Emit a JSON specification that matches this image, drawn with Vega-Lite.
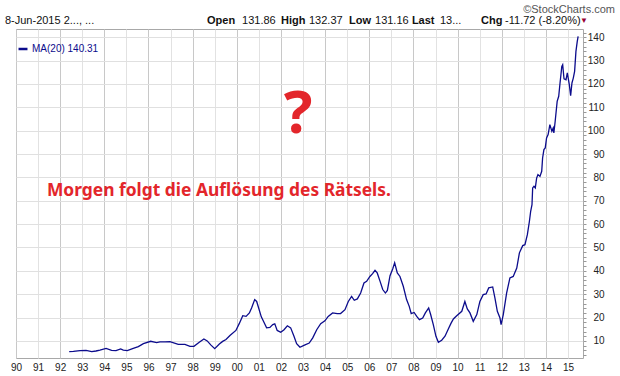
{
  "$schema": "https://vega.github.io/schema/vega-lite/v6.json",
  "width": 567,
  "height": 329,
  "autosize": {"type": "none"},
  "padding": {"left": 16, "top": 29, "right": 37, "bottom": 18},
  "background": "white",
  "config": {"view": {"stroke": "#a8a8a8"}, "font": "Liberation Sans"},
  "resolve": {"axis": {"x": "independent", "y": "independent"}},
  "layer": [
    {
      "data": {"values": [
        {"t":1992.41,"v":5.4},{"t":1992.6,"v":5.5},{"t":1992.9,"v":5.85},{"t":1993.17,"v":6.0},{"t":1993.43,"v":5.4},{"t":1993.62,"v":5.7},{"t":1993.8,"v":6.1},{"t":1994.08,"v":6.8},{"t":1994.33,"v":6.0},{"t":1994.53,"v":5.85},{"t":1994.74,"v":6.6},{"t":1994.86,"v":6.1},{"t":1995.04,"v":5.85},{"t":1995.31,"v":6.8},{"t":1995.54,"v":7.6},{"t":1995.77,"v":8.85},{"t":1996.1,"v":9.85},{"t":1996.37,"v":9.3},{"t":1996.52,"v":9.6},{"t":1996.75,"v":9.6},{"t":1996.97,"v":9.7},{"t":1997.35,"v":8.5},{"t":1997.65,"v":8.5},{"t":1997.88,"v":7.7},{"t":1998.06,"v":7.7},{"t":1998.3,"v":9.4},{"t":1998.51,"v":10.85},{"t":1998.66,"v":10.0},{"t":1998.82,"v":8.3},{"t":1999.0,"v":6.7},{"t":1999.21,"v":8.7},{"t":1999.36,"v":9.8},{"t":1999.51,"v":10.6},{"t":1999.69,"v":12.3},{"t":1999.96,"v":14.5},{"t":2000.11,"v":17.4},{"t":2000.27,"v":20.8},{"t":2000.42,"v":20.5},{"t":2000.57,"v":22.0},{"t":2000.67,"v":24.1},{"t":2000.81,"v":27.7},{"t":2000.9,"v":26.9},{"t":2000.99,"v":24.1},{"t":2001.11,"v":20.3},{"t":2001.23,"v":18.0},{"t":2001.35,"v":15.6},{"t":2001.5,"v":15.8},{"t":2001.63,"v":17.0},{"t":2001.72,"v":17.3},{"t":2001.83,"v":14.5},{"t":2001.99,"v":13.7},{"t":2002.14,"v":14.8},{"t":2002.29,"v":16.5},{"t":2002.44,"v":15.6},{"t":2002.59,"v":12.0},{"t":2002.71,"v":8.85},{"t":2002.86,"v":7.3},{"t":2003.04,"v":8.1},{"t":2003.28,"v":9.1},{"t":2003.44,"v":11.3},{"t":2003.62,"v":14.8},{"t":2003.8,"v":17.4},{"t":2003.99,"v":18.6},{"t":2004.14,"v":20.5},{"t":2004.34,"v":22.0},{"t":2004.55,"v":21.7},{"t":2004.7,"v":21.7},{"t":2004.9,"v":23.4},{"t":2005.05,"v":26.9},{"t":2005.2,"v":29.1},{"t":2005.32,"v":27.4},{"t":2005.46,"v":28.0},{"t":2005.61,"v":30.5},{"t":2005.76,"v":34.8},{"t":2005.88,"v":35.5},{"t":2006.03,"v":37.6},{"t":2006.15,"v":38.8},{"t":2006.26,"v":40.2},{"t":2006.36,"v":39.1},{"t":2006.49,"v":35.5},{"t":2006.61,"v":32.0},{"t":2006.73,"v":30.5},{"t":2006.82,"v":31.6},{"t":2006.94,"v":37.9},{"t":2007.06,"v":40.8},{"t":2007.15,"v":43.4},{"t":2007.27,"v":39.1},{"t":2007.39,"v":37.6},{"t":2007.54,"v":33.4},{"t":2007.69,"v":27.7},{"t":2007.81,"v":24.8},{"t":2007.9,"v":21.7},{"t":2008.03,"v":22.2},{"t":2008.15,"v":20.5},{"t":2008.27,"v":19.1},{"t":2008.42,"v":19.8},{"t":2008.54,"v":22.0},{"t":2008.69,"v":24.1},{"t":2008.78,"v":21.3},{"t":2008.9,"v":17.0},{"t":2009.02,"v":12.0},{"t":2009.13,"v":9.4},{"t":2009.28,"v":10.3},{"t":2009.43,"v":12.0},{"t":2009.58,"v":15.1},{"t":2009.7,"v":17.5},{"t":2009.81,"v":19.4},{"t":2009.96,"v":20.8},{"t":2010.19,"v":22.7},{"t":2010.33,"v":26.9},{"t":2010.44,"v":23.7},{"t":2010.56,"v":22.0},{"t":2010.71,"v":18.4},{"t":2010.87,"v":21.3},{"t":2011.01,"v":26.9},{"t":2011.16,"v":29.8},{"t":2011.29,"v":30.1},{"t":2011.41,"v":32.7},{"t":2011.59,"v":33.1},{"t":2011.69,"v":28.4},{"t":2011.8,"v":22.7},{"t":2011.92,"v":19.8},{"t":2011.97,"v":17.0},{"t":2012.07,"v":21.3},{"t":2012.22,"v":30.5},{"t":2012.37,"v":37.0},{"t":2012.52,"v":37.6},{"t":2012.68,"v":41.2},{"t":2012.8,"v":47.7},{"t":2012.95,"v":50.8},{"t":2013.05,"v":51.2},{"t":2013.16,"v":55.5},{"t":2013.25,"v":61.0},{"t":2013.31,"v":65.5},{"t":2013.37,"v":68.3},{"t":2013.4,"v":75.5},{"t":2013.46,"v":76.2},{"t":2013.52,"v":75.5},{"t":2013.58,"v":79.7},{"t":2013.64,"v":81.2},{"t":2013.73,"v":80.4},{"t":2013.81,"v":82.6},{"t":2013.85,"v":88.3},{"t":2013.91,"v":91.9},{"t":2013.97,"v":92.6},{"t":2014.03,"v":96.9},{"t":2014.1,"v":98.3},{"t":2014.18,"v":102.6},{"t":2014.27,"v":99.7},{"t":2014.33,"v":101.1},{"t":2014.36,"v":99.0},{"t":2014.42,"v":104.0},{"t":2014.51,"v":112.5},{"t":2014.58,"v":114.7},{"t":2014.64,"v":120.4},{"t":2014.72,"v":127.5},{"t":2014.76,"v":128.2},{"t":2014.82,"v":122.2},{"t":2014.91,"v":121.8},{"t":2014.97,"v":124.7},{"t":2015.01,"v":122.5},{"t":2015.06,"v":119.7},{"t":2015.12,"v":115.0},{"t":2015.18,"v":120.4},{"t":2015.24,"v":122.5},{"t":2015.3,"v":125.4},{"t":2015.36,"v":133.9},{"t":2015.42,"v":138.2},{"t":2015.46,"v":140.3}
      ]},
      "mark": {"type": "line", "strokeWidth": 1.3, "clip": true},
      "encoding": {
        "x": {"field": "t", "type": "quantitative",
          "scale": {"domain": [1990, 2015.68], "nice": false, "zero": false},
          "axis": {"values": [1990,1991,1992,1993,1994,1995,1996,1997,1998,1999,2000,2001,2002,2003,2004,2005,2006,2007,2008,2009,2010,2011,2012,2013,2014,2015],
            "labelExpr": "slice('0' + (datum.value % 100), -2)",
            "title": null, "grid": true,
            "gridColor": {"condition": {"test": "datum.value % 2 === 0", "value": "#c8c8c8"}, "value": "#e2e2e2"},
            "ticks": false, "domain": false, "labelFontSize": 10, "labelColor": "#222222", "labelPadding": 4, "labelFlush": false, "labelOverlap": false}},
        "y": {"field": "v", "type": "quantitative",
          "scale": {"domain": [2.7, 143.5], "nice": false, "zero": false},
          "axis": {"orient": "right",
            "values": [4,6,8,10,12,14,16,18,20,22,24,26,28,30,32,34,36,38,40,42,44,46,48,50,52,54,56,58,60,62,64,66,68,70,72,74,76,78,80,82,84,86,88,90,92,94,96,98,100,102,104,106,108,110,112,114,116,118,120,122,124,126,128,130,132,134,136,138,140,142],
            "labelExpr": "datum.value % 10 === 0 ? datum.label : ''",
            "title": null, "grid": true, "gridColor": "#e0e0e0",
            "gridOpacity": {"condition": {"test": "datum.value % 10 === 0", "value": 1}, "value": 0},
            "tickSize": 3, "tickColor": "#999999", "domain": false,
            "labelAlign": "right", "labelPadding": 18, "labelFontSize": 10, "labelColor": "#222222", "labelOverlap": false}},
        "color": {"datum": "MA(20) 140.31", "scale": {"range": ["#0c0c8c"]},
          "legend": {"title": null, "orient": "none", "legendX": 1, "legendY": 14, "symbolType": "stroke", "symbolStrokeWidth": 2.5, "symbolSize": 80, "labelColor": "#0c0c8c", "labelFontSize": 10, "labelFont": "Liberation Sans", "labelOffset": 3, "padding": 0}}
      }
    },
    {
      "data": {"values": [{}]},
      "mark": {"type": "text", "font": "Noto Sans", "fontWeight": "bold", "fontSize": 60, "color": "#e3262b", "align": "center", "baseline": "middle"},
      "encoding": {"x": {"datum": 2002.77, "type": "quantitative", "axis": null}, "y": {"datum": 106.8, "type": "quantitative", "axis": null}, "text": {"value": "?"}}
    },
    {
      "data": {"values": [{}]},
      "mark": {"type": "text", "font": "Noto Sans", "fontWeight": "bold", "fontSize": 17.4, "color": "#e3262b", "align": "left", "baseline": "middle"},
      "encoding": {"x": {"datum": 1991.4, "type": "quantitative", "axis": null}, "y": {"datum": 74.2, "type": "quantitative", "axis": null}, "text": {"value": "Morgen folgt die Auflösung des Rätsels."}}
    },
    {
      "data": {"values": [
        {"t": 1989.5, "label": "8-Jun-2015 2..., ..."},
        {"t": 2000.24, "label": "131.86"},
        {"t": 2003.27, "label": "132.37"},
        {"t": 2006.26, "label": "131.16"},
        {"t": 2009.2, "label": "13..."},
        {"t": 2012.15, "label": "-11.72 (-8.20%)"}
      ]},
      "mark": {"type": "text", "fontSize": 11, "color": "#111111", "align": "left", "baseline": "middle"},
      "encoding": {"x": {"field": "t", "type": "quantitative", "axis": null}, "y": {"datum": 146.8, "type": "quantitative", "axis": null}, "text": {"field": "label"}}
    },
    {
      "data": {"values": [
        {"t": 1998.65, "label": "Open"},
        {"t": 2002.0, "label": "High"},
        {"t": 2005.08, "label": "Low"},
        {"t": 2007.93, "label": "Last"},
        {"t": 2011.06, "label": "Chg"}
      ]},
      "mark": {"type": "text", "fontSize": 11, "fontWeight": "bold", "color": "#111111", "align": "left", "baseline": "middle"},
      "encoding": {"x": {"field": "t", "type": "quantitative", "axis": null}, "y": {"datum": 146.8, "type": "quantitative", "axis": null}, "text": {"field": "label"}}
    },
    {
      "data": {"values": [{}]},
      "mark": {"type": "text", "fontSize": 8, "color": "#990033", "align": "center", "baseline": "middle"},
      "encoding": {"x": {"datum": 2015.72, "type": "quantitative", "axis": null}, "y": {"datum": 146.8, "type": "quantitative", "axis": null}, "text": {"value": "▼"}}
    },
    {
      "data": {"values": [{}]},
      "mark": {"type": "text", "fontSize": 11, "color": "#555555", "align": "right", "baseline": "middle"},
      "encoding": {"x": {"datum": 2017.13, "type": "quantitative", "axis": null}, "y": {"datum": 151.8, "type": "quantitative", "axis": null}, "text": {"value": "©StockCharts.com"}}
    }
  ]
}
